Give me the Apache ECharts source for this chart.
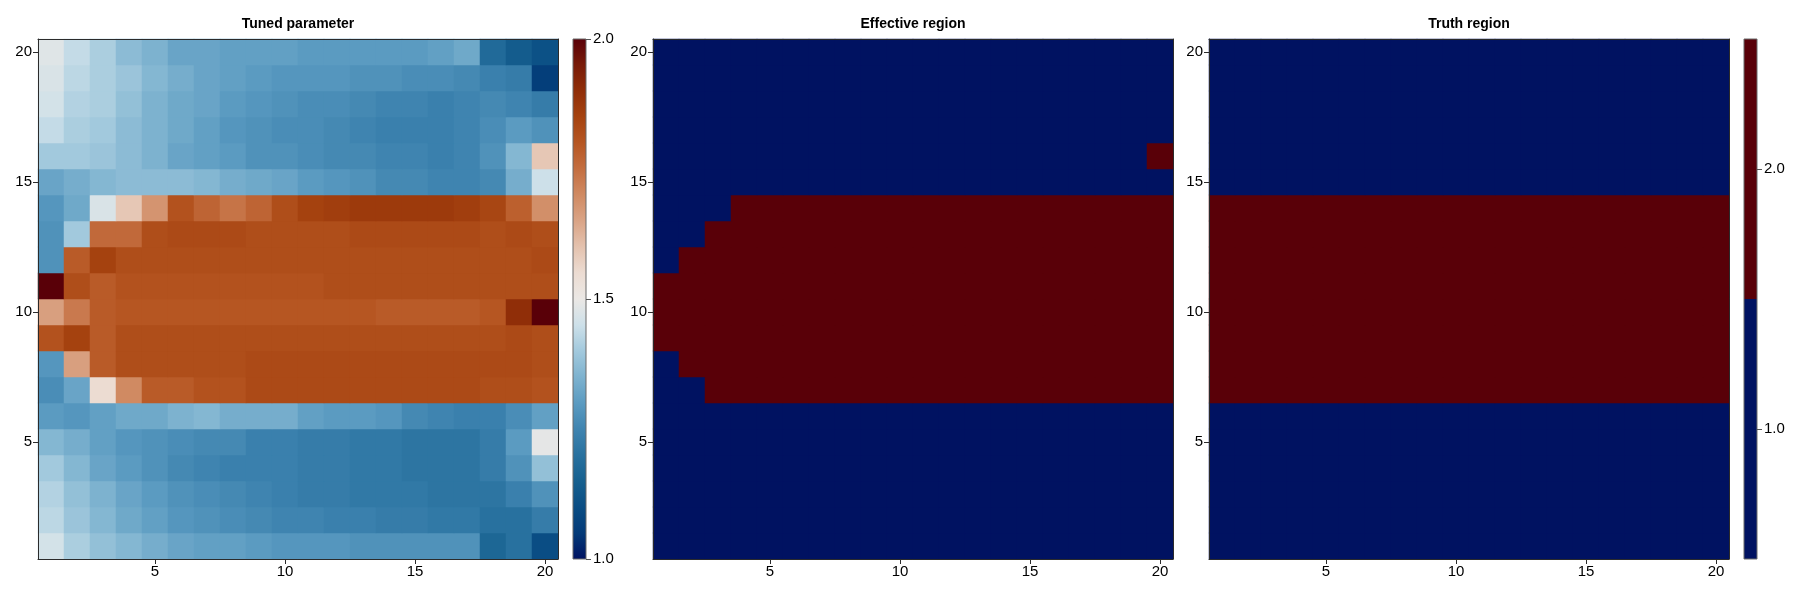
<!DOCTYPE html>
<html>
<head>
<meta charset="utf-8">
<script src="https://cdn.jsdelivr.net/npm/echarts@6/dist/echarts.min.js"></script>
<style>
html,body{margin:0;padding:0;background:#fff;}
#c{width:1800px;height:600px;}
</style>
</head>
<body>
<div id="c"></div>
<script>
// ---------- data (row 1 = bottom, column 1 = left) ----------
const colLabels = ['1','2','3','4','5','6','7','8','9','10','11','12','13','14','15','16','17','18','19','20'];
const rowLabels = ['1','2','3','4','5','6','7','8','9','10','11','12','13','14','15','16','17','18','19','20'];
const titles = ['Tuned parameter', 'Effective region', 'Truth region'];
const tunedTicks = [1.0, 1.5, 2.0];
const regionTicks = [1.0, 2.0];

// Tuned parameter, rows bottom (1) to top (20)
const tunedRows = [
  [1.46,1.41,1.38,1.36,1.34,1.32,1.31,1.31,1.30,1.29,1.29,1.29,1.28,1.28,1.28,1.28,1.28,1.17,1.20,1.10],
  [1.43,1.39,1.36,1.33,1.31,1.29,1.28,1.27,1.26,1.25,1.25,1.24,1.24,1.23,1.23,1.22,1.22,1.20,1.20,1.23],
  [1.42,1.38,1.35,1.32,1.30,1.28,1.27,1.26,1.25,1.24,1.23,1.23,1.22,1.22,1.22,1.21,1.21,1.21,1.24,1.28],
  [1.40,1.36,1.32,1.30,1.28,1.26,1.25,1.24,1.24,1.24,1.23,1.23,1.22,1.22,1.21,1.21,1.21,1.23,1.28,1.38],
  [1.36,1.34,1.31,1.29,1.28,1.27,1.26,1.26,1.24,1.24,1.23,1.23,1.22,1.22,1.21,1.21,1.21,1.23,1.30,1.49],
  [1.30,1.29,1.31,1.33,1.33,1.35,1.36,1.34,1.34,1.34,1.31,1.30,1.30,1.29,1.26,1.25,1.24,1.24,1.27,1.31],
  [1.27,1.32,1.55,1.70,1.79,1.79,1.81,1.81,1.83,1.83,1.83,1.83,1.83,1.83,1.83,1.83,1.83,1.82,1.82,1.81],
  [1.29,1.66,1.79,1.82,1.82,1.82,1.82,1.82,1.83,1.83,1.83,1.83,1.83,1.83,1.83,1.83,1.83,1.83,1.83,1.82],
  [1.81,1.85,1.79,1.82,1.82,1.82,1.82,1.82,1.82,1.82,1.82,1.82,1.82,1.82,1.82,1.82,1.82,1.82,1.83,1.82],
  [1.66,1.73,1.79,1.80,1.80,1.80,1.80,1.80,1.80,1.80,1.80,1.80,1.80,1.79,1.79,1.79,1.79,1.80,1.90,2.00],
  [2.00,1.82,1.79,1.81,1.81,1.81,1.81,1.81,1.81,1.81,1.81,1.82,1.82,1.82,1.82,1.82,1.82,1.82,1.82,1.82],
  [1.28,1.79,1.85,1.82,1.82,1.82,1.82,1.82,1.82,1.82,1.82,1.82,1.82,1.82,1.82,1.82,1.82,1.82,1.82,1.83],
  [1.28,1.40,1.76,1.76,1.82,1.83,1.83,1.83,1.82,1.82,1.82,1.82,1.83,1.83,1.83,1.83,1.83,1.82,1.83,1.82],
  [1.29,1.33,1.47,1.59,1.68,1.81,1.77,1.74,1.77,1.82,1.85,1.86,1.87,1.87,1.87,1.87,1.86,1.84,1.78,1.69],
  [1.32,1.34,1.36,1.37,1.37,1.37,1.36,1.34,1.33,1.32,1.30,1.29,1.28,1.26,1.26,1.25,1.25,1.26,1.34,1.45],
  [1.40,1.40,1.39,1.37,1.35,1.32,1.31,1.30,1.28,1.28,1.27,1.26,1.26,1.25,1.25,1.24,1.25,1.28,1.36,1.59],
  [1.44,1.41,1.40,1.37,1.35,1.33,1.31,1.29,1.28,1.27,1.27,1.26,1.25,1.24,1.24,1.24,1.25,1.27,1.30,1.28],
  [1.46,1.42,1.41,1.38,1.35,1.33,1.32,1.30,1.29,1.28,1.27,1.27,1.26,1.25,1.25,1.24,1.25,1.26,1.25,1.23],
  [1.47,1.43,1.41,1.39,1.36,1.34,1.32,1.31,1.30,1.29,1.29,1.29,1.28,1.28,1.27,1.27,1.26,1.24,1.23,1.06],
  [1.48,1.44,1.41,1.37,1.35,1.32,1.32,1.31,1.31,1.31,1.30,1.30,1.30,1.30,1.30,1.31,1.33,1.18,1.14,1.11]
];

// Effective region (1 = outside, 2 = inside), rows bottom to top
const effectiveRows = [
  [1,1,1,1,1,1,1,1,1,1,1,1,1,1,1,1,1,1,1,1],
  [1,1,1,1,1,1,1,1,1,1,1,1,1,1,1,1,1,1,1,1],
  [1,1,1,1,1,1,1,1,1,1,1,1,1,1,1,1,1,1,1,1],
  [1,1,1,1,1,1,1,1,1,1,1,1,1,1,1,1,1,1,1,1],
  [1,1,1,1,1,1,1,1,1,1,1,1,1,1,1,1,1,1,1,1],
  [1,1,1,1,1,1,1,1,1,1,1,1,1,1,1,1,1,1,1,1],
  [1,1,2,2,2,2,2,2,2,2,2,2,2,2,2,2,2,2,2,2],
  [1,2,2,2,2,2,2,2,2,2,2,2,2,2,2,2,2,2,2,2],
  [2,2,2,2,2,2,2,2,2,2,2,2,2,2,2,2,2,2,2,2],
  [2,2,2,2,2,2,2,2,2,2,2,2,2,2,2,2,2,2,2,2],
  [2,2,2,2,2,2,2,2,2,2,2,2,2,2,2,2,2,2,2,2],
  [1,2,2,2,2,2,2,2,2,2,2,2,2,2,2,2,2,2,2,2],
  [1,1,2,2,2,2,2,2,2,2,2,2,2,2,2,2,2,2,2,2],
  [1,1,1,2,2,2,2,2,2,2,2,2,2,2,2,2,2,2,2,2],
  [1,1,1,1,1,1,1,1,1,1,1,1,1,1,1,1,1,1,1,1],
  [1,1,1,1,1,1,1,1,1,1,1,1,1,1,1,1,1,1,1,2],
  [1,1,1,1,1,1,1,1,1,1,1,1,1,1,1,1,1,1,1,1],
  [1,1,1,1,1,1,1,1,1,1,1,1,1,1,1,1,1,1,1,1],
  [1,1,1,1,1,1,1,1,1,1,1,1,1,1,1,1,1,1,1,1],
  [1,1,1,1,1,1,1,1,1,1,1,1,1,1,1,1,1,1,1,1]
];

// Truth region, rows bottom to top
const truthRows = [
  [1,1,1,1,1,1,1,1,1,1,1,1,1,1,1,1,1,1,1,1],
  [1,1,1,1,1,1,1,1,1,1,1,1,1,1,1,1,1,1,1,1],
  [1,1,1,1,1,1,1,1,1,1,1,1,1,1,1,1,1,1,1,1],
  [1,1,1,1,1,1,1,1,1,1,1,1,1,1,1,1,1,1,1,1],
  [1,1,1,1,1,1,1,1,1,1,1,1,1,1,1,1,1,1,1,1],
  [1,1,1,1,1,1,1,1,1,1,1,1,1,1,1,1,1,1,1,1],
  [2,2,2,2,2,2,2,2,2,2,2,2,2,2,2,2,2,2,2,2],
  [2,2,2,2,2,2,2,2,2,2,2,2,2,2,2,2,2,2,2,2],
  [2,2,2,2,2,2,2,2,2,2,2,2,2,2,2,2,2,2,2,2],
  [2,2,2,2,2,2,2,2,2,2,2,2,2,2,2,2,2,2,2,2],
  [2,2,2,2,2,2,2,2,2,2,2,2,2,2,2,2,2,2,2,2],
  [2,2,2,2,2,2,2,2,2,2,2,2,2,2,2,2,2,2,2,2],
  [2,2,2,2,2,2,2,2,2,2,2,2,2,2,2,2,2,2,2,2],
  [2,2,2,2,2,2,2,2,2,2,2,2,2,2,2,2,2,2,2,2],
  [1,1,1,1,1,1,1,1,1,1,1,1,1,1,1,1,1,1,1,1],
  [1,1,1,1,1,1,1,1,1,1,1,1,1,1,1,1,1,1,1,1],
  [1,1,1,1,1,1,1,1,1,1,1,1,1,1,1,1,1,1,1,1],
  [1,1,1,1,1,1,1,1,1,1,1,1,1,1,1,1,1,1,1,1],
  [1,1,1,1,1,1,1,1,1,1,1,1,1,1,1,1,1,1,1,1],
  [1,1,1,1,1,1,1,1,1,1,1,1,1,1,1,1,1,1,1,1]
];

// ---------- styling ----------
const FONT = 'Liberation Sans, Arial, Helvetica, sans-serif';
// vik-like diverging colormap, stops at 1.00, 1.05, ..., 2.00
const vik = ['#001261','#033a78','#0a4d84','#16608f','#28719f','#3f84b0','#5b9bc1','#7db2cf',
             '#a2c9dd','#cde0e9','#ebe8e5','#ecdcd2','#e4c2ae','#daa486','#d08a62','#c46e40',
             '#b65622','#a5420f','#902e08','#781a08','#590008'];
const NAVY = '#001261', MAROON = '#590008';

function toCells(rows) {
  const out = [];
  rows.forEach((r, yi) => r.forEach((v, xi) => out.push([xi, yi, v])));
  return out;
}

// integer cell sizes (26 px) keep the heatmap free of seams
const grids = [
  {left: 38,   top: 39, width: 520, height: 520},
  {left: 573,  top: 39, width: 13,  height: 520},
  {left: 653,  top: 39, width: 520, height: 520},
  {left: 1209, top: 39, width: 520, height: 520},
  {left: 1744, top: 39, width: 13,  height: 520}
];

const every5 = (i) => (i + 1) % 5 === 0;
const lineStyle = {color: '#2b2b2b', width: 1};
function catX(gi) {
  return [
    {type: 'category', gridIndex: gi, data: colLabels, position: 'bottom', z: 10,
     axisLine: {show: true, lineStyle},
     axisTick: {show: true, alignWithLabel: true, interval: every5, length: 5, lineStyle},
     axisLabel: {interval: every5, fontSize: 15, color: '#000', fontFamily: FONT, margin: 5},
     splitLine: {show: false}},
    {type: 'category', gridIndex: gi, data: colLabels, position: 'top', z: 10,
     axisLine: {show: true, onZero: false, lineStyle}, axisTick: {show: false}, axisLabel: {show: false}, splitLine: {show: false}}
  ];
}
function catY(gi) {
  return [
    {type: 'category', gridIndex: gi, data: rowLabels, position: 'left', z: 10,
     axisLine: {show: true, lineStyle},
     axisTick: {show: true, alignWithLabel: true, interval: every5, length: 5, lineStyle},
     axisLabel: {interval: every5, fontSize: 15, color: '#000', fontFamily: FONT, margin: 6},
     splitLine: {show: false}},
    {type: 'category', gridIndex: gi, data: rowLabels, position: 'right', z: 10,
     axisLine: {show: true, onZero: false, lineStyle}, axisTick: {show: false}, axisLabel: {show: false}, splitLine: {show: false}}
  ];
}

const xAxes = [].concat(
  catX(0),
  [{type: 'category', gridIndex: 1, data: ['cb'], show: false}],
  catX(2), catX(3),
  [{type: 'category', gridIndex: 4, data: ['cb'], show: false}]
);
const cbYCommon = {
  type: 'value', position: 'right', z: 10,
  axisLine: {show: false},
  axisTick: {show: true, length: 5, inside: false, lineStyle: {color: '#555', width: 1}},
  axisLabel: {fontSize: 15, color: '#000', fontFamily: FONT, margin: 7, formatter: (v) => v.toFixed(1)},
  splitLine: {show: false}
};
const yAxes = [].concat(
  catY(0),
  [Object.assign({}, cbYCommon, {gridIndex: 1, min: 1, max: 2, interval: 0.5,
     axisLabel: Object.assign({}, cbYCommon.axisLabel, {customValues: tunedTicks}),
     axisTick: Object.assign({}, cbYCommon.axisTick, {customValues: tunedTicks})})],
  catY(2), catY(3),
  [Object.assign({}, cbYCommon, {gridIndex: 4, min: 0.5, max: 2.5, interval: 0.5,
     axisLabel: Object.assign({}, cbYCommon.axisLabel, {customValues: regionTicks}),
     axisTick: Object.assign({}, cbYCommon.axisTick, {customValues: regionTicks})})]
);

function colorbarRender(lo, hi, stops) {
  return function (params, api) {
    const cs = params.coordSys;
    const pTop = api.coord([0, hi]);
    const pBot = api.coord([0, lo]);
    return {
      type: 'rect',
      shape: {x: cs.x, y: pTop[1], width: cs.width, height: pBot[1] - pTop[1]},
      style: {fill: new echarts.graphic.LinearGradient(0, 1, 0, 0, stops), stroke: '#6a6a6a', lineWidth: 1}
    };
  };
}
const vikStops = vik.map((c, i) => ({offset: i / (vik.length - 1), color: c}));
const regionStops = [{offset: 0, color: NAVY}, {offset: 0.5, color: NAVY}, {offset: 0.5, color: MAROON}, {offset: 1, color: MAROON}];

const heatCommon = {type: 'heatmap', emphasis: {disabled: true}, itemStyle: {borderWidth: 0}, progressive: 0, silent: true};

const option = {
  backgroundColor: '#ffffff',
  animation: false,
  textStyle: {fontFamily: FONT},
  title: titles.map((t, i) => {
    const g = grids[[0, 2, 3][i]];
    return {text: t, left: g.left + g.width / 2, top: 17, textAlign: 'center', padding: 0,
            textStyle: {fontSize: 14, fontWeight: 'bold', color: '#000', fontFamily: FONT}};
  }),
  grid: grids,
  xAxis: xAxes,
  yAxis: yAxes,
  visualMap: [
    {type: 'continuous', show: false, seriesIndex: 0, min: 1, max: 2, inRange: {color: vik}},
    {type: 'piecewise', show: false, seriesIndex: [2, 3],
     pieces: [{lt: 1.5, color: NAVY}, {gte: 1.5, color: MAROON}]}
  ],
  series: [
    Object.assign({}, heatCommon, {xAxisIndex: 0, yAxisIndex: 0, data: toCells(tunedRows)}),
    {type: 'custom', xAxisIndex: 2, yAxisIndex: 2, silent: true, data: [[0, 1.5]],
     renderItem: colorbarRender(1, 2, vikStops)},
    Object.assign({}, heatCommon, {xAxisIndex: 3, yAxisIndex: 3, data: toCells(effectiveRows)}),
    Object.assign({}, heatCommon, {xAxisIndex: 5, yAxisIndex: 5, data: toCells(truthRows)}),
    {type: 'custom', xAxisIndex: 7, yAxisIndex: 7, silent: true, data: [[0, 1.5]],
     renderItem: colorbarRender(0.5, 2.5, regionStops)}
  ]
};

const chart = echarts.init(document.getElementById('c'), null, {renderer: 'canvas'});
chart.setOption(option);
</script>
</body>
</html>
